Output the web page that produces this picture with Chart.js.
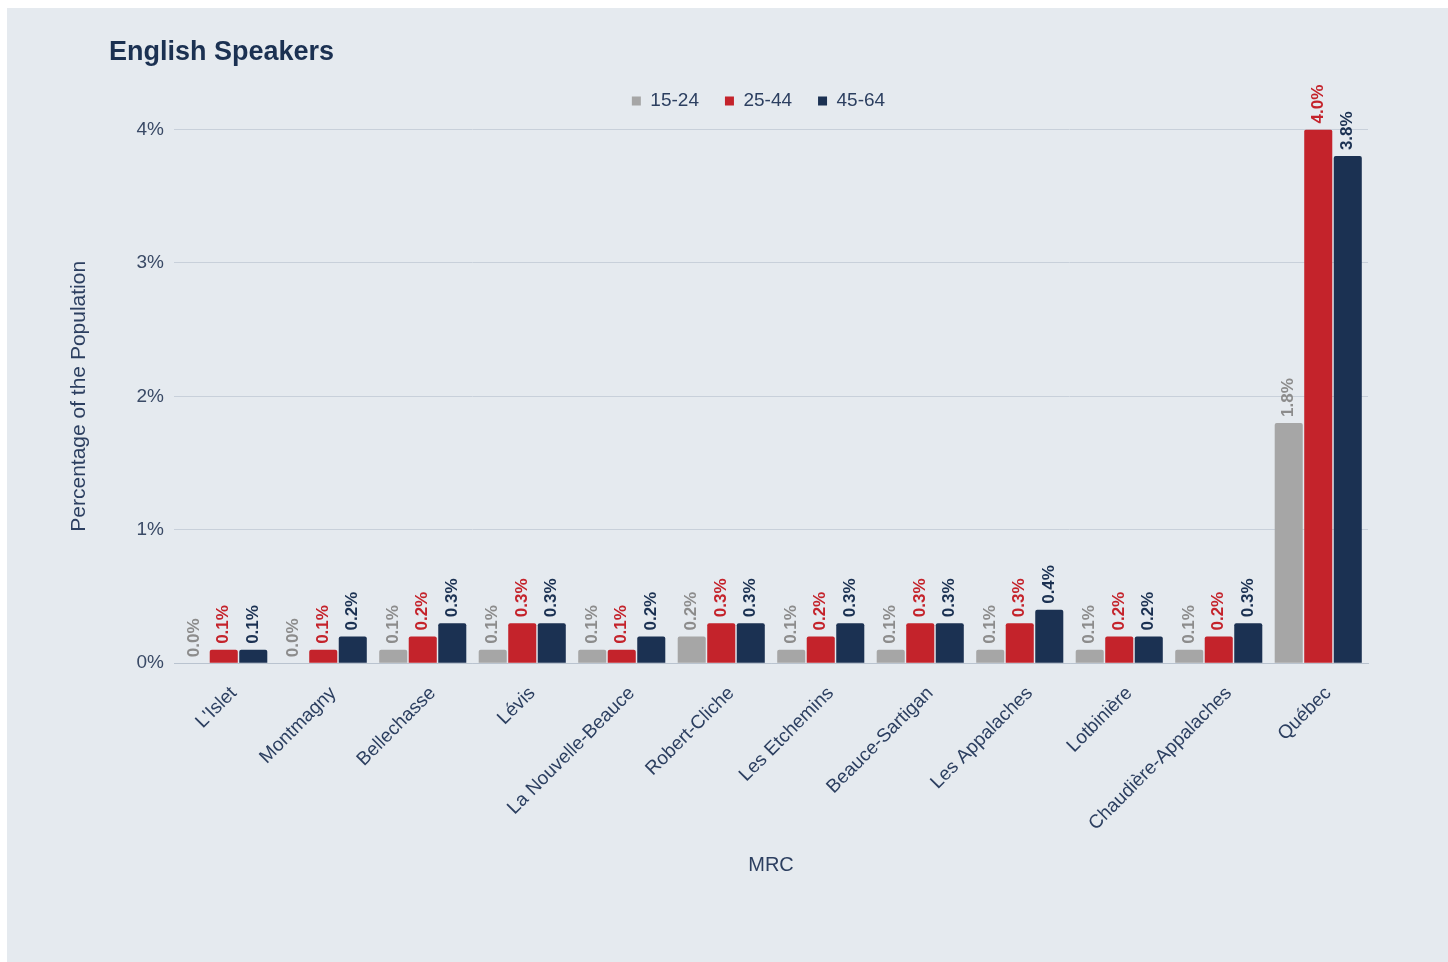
<!DOCTYPE html>
<html>
<head>
<meta charset="utf-8">
<script src="https://cdn.jsdelivr.net/npm/chart.js@4/dist/chart.umd.min.js"></script>
<style>
  html, body { margin: 0; padding: 0; background: #ffffff; }
  #panel {
    position: absolute; left: 7px; top: 8px;
    width: 1441px; height: 954px;
    background: #e5eaef;
  }
</style>
</head>
<body>
<div id="panel"><canvas id="grafico"></canvas></div>
<script>
// dados
const categorias = ["L'Islet", 'Montmagny', 'Bellechasse', 'Lévis', 'La Nouvelle-Beauce', 'Robert-Cliche',
  'Les Etchemins', 'Beauce-Sartigan', 'Les Appalaches', 'Lotbinière', 'Chaudière-Appalaches', 'Québec'];
const idade15a24 = [0.0, 0.0, 0.1, 0.1, 0.1, 0.2, 0.1, 0.1, 0.1, 0.1, 0.1, 1.8];
const idade25a44 = [0.1, 0.1, 0.2, 0.3, 0.1, 0.3, 0.2, 0.3, 0.3, 0.2, 0.2, 4.0];
const idade45a64 = [0.1, 0.2, 0.3, 0.3, 0.2, 0.3, 0.3, 0.3, 0.4, 0.2, 0.3, 3.8];
const ticksY = [0, 1, 2, 3, 4];

const CINZA = '#a6a6a6';
const VERMELHO = '#c4232b';
const AZUL = '#1b3152';
const TEXTO = '#2c3f60';
const FONTE = "'Liberation Sans', Arial, Helvetica, sans-serif";

// desloca título e legenda para as posições do original
const ajusteLayout = {
  id: 'ajusteLayout',
  afterLayout(chart) {
    const t = chart.titleBlock;
    if (t) { t.left += 46; t.right += 46; }
    const l = chart.legend;
    if (l) { l.left += 43; l.right += 43; l.top -= 9; l.bottom -= 9; }
  }
};

// rótulos de valor girados sobre as barras
const rotulos = {
  id: 'rotulos',
  afterDatasetsDraw(chart) {
    const ctx = chart.ctx;
    const cores = ['#8c8c8c', VERMELHO, AZUL];
    chart.data.datasets.forEach((ds, i) => {
      const meta = chart.getDatasetMeta(i);
      meta.data.forEach((bar, j) => {
        ctx.save();
        ctx.translate(bar.x, bar.y - 6);
        ctx.rotate(-Math.PI / 2);
        ctx.font = 'bold 17px ' + FONTE;
        ctx.fillStyle = cores[i];
        ctx.textAlign = 'left';
        ctx.textBaseline = 'middle';
        ctx.fillText(ds.data[j].toFixed(1) + '%', 0, 0);
        ctx.restore();
      });
    });
  }
};

Chart.defaults.font.family = FONTE;
Chart.defaults.color = TEXTO;

const ctx = document.getElementById('grafico').getContext('2d');
new Chart(ctx, {
  type: 'bar',
  data: {
    labels: categorias,
    datasets: [
      { label: '15-24', data: idade15a24, backgroundColor: CINZA },
      { label: '25-44', data: idade25a44, backgroundColor: VERMELHO },
      { label: '45-64', data: idade45a64, backgroundColor: AZUL }
    ]
  },
  options: {
    responsive: true,
    maintainAspectRatio: false,
    animation: false,
    categoryPercentage: 0.89,
    barPercentage: 0.95,
    borderRadius: 2,
    layout: { padding: { left: 56, right: 80, top: 22, bottom: 81 } },
    plugins: {
      title: {
        display: true,
        text: 'English Speakers',
        align: 'start',
        color: AZUL,
        font: { size: 27, weight: 'bold' },
        padding: { top: 6, bottom: 6 }
      },
      legend: {
        position: 'top',
        labels: {
          boxWidth: 9,
          boxHeight: 9,
          padding: 26,
          color: TEXTO,
          font: { size: 19 }
        }
      },
      tooltip: { enabled: false }
    },
    scales: {
      x: {
        grid: { display: false },
        border: { color: '#b9c3cf' },
        ticks: {
          color: TEXTO,
          font: { size: 19 },
          minRotation: 45,
          maxRotation: 45,
          padding: 11,
          labelOffset: 10
        },
        title: {
          display: true,
          text: 'MRC',
          color: TEXTO,
          font: { size: 20 },
          padding: { top: 7 }
        }
      },
      y: {
        min: 0,
        max: 4,
        afterBuildTicks: axis => { axis.ticks = ticksY.map(v => ({ value: v })); },
        afterFit: axis => { axis.width = 111; },
        grid: { color: '#c8d0da', drawTicks: false },
        border: { display: false },
        ticks: {
          color: '#3a4a66',
          font: { size: 19 },
          padding: 10,
          callback: value => value + '%'
        },
        title: {
          display: true,
          text: 'Percentage of the Population',
          color: TEXTO,
          font: { size: 21 }
        }
      }
    }
  },
  plugins: [ajusteLayout, rotulos]
});
</script>
</body>
</html>
